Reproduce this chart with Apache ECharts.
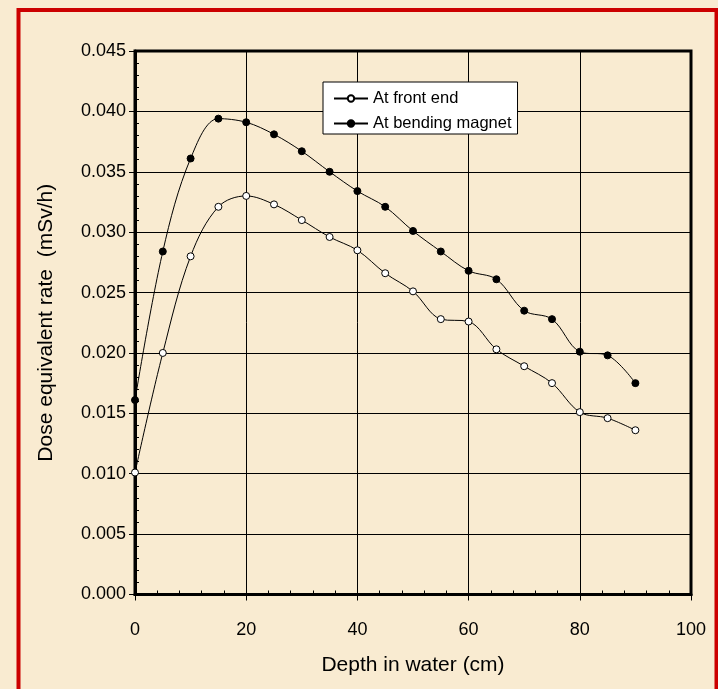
<!DOCTYPE html>
<html>
<head>
<meta charset="utf-8">
<script src="https://cdn.jsdelivr.net/npm/echarts@6/dist/echarts.min.js"></script>
<style>
html,body{margin:0;padding:0;background:#F9EBD1;}
#c{width:718px;height:689px;}
</style>
</head>
<body>
<div id="c"></div>
<script>
const depths = [0, 5, 10, 15, 20, 25, 30, 35, 40, 45, 50, 55, 60, 65, 70, 75, 80, 85, 90];
const frontEnd = [0.0101, 0.0200, 0.0280, 0.0321, 0.0330, 0.0323, 0.0310, 0.0296, 0.0285, 0.0266, 0.0251, 0.0228, 0.0226, 0.0203, 0.0189, 0.0175, 0.0151, 0.0146, 0.0136];
const bendingMagnet = [0.0161, 0.0284, 0.0361, 0.0394, 0.0391, 0.0381, 0.0367, 0.0350, 0.0334, 0.0321, 0.0301, 0.0284, 0.0268, 0.0261, 0.0235, 0.0228, 0.0201, 0.0198, 0.0175];
const xTicks = [0, 20, 40, 60, 80, 100];
const yTicks = [0, 0.005, 0.010, 0.015, 0.020, 0.025, 0.030, 0.035, 0.040, 0.045];
const seriesNames = ['At front end', 'At bending magnet'];

const chart = echarts.init(document.getElementById('c'), null, {renderer: 'canvas'});
const font = 'Liberation Sans, Arial, sans-serif';
const pair = (xs, ys) => xs.map((x, i) => [x, ys[i]]);

chart.setOption({
  backgroundColor: '#F9EBD1',
  animation: false,
  graphic: [{
    type: 'rect',
    shape: {x: 18.5, y: 10, width: 698, height: 720},
    style: {fill: 'none', stroke: '#CC0000', lineWidth: 4},
    z: 100
  }],
  grid: {left: 135, right: 27, top: 51, bottom: 94.5, show: true, borderColor: '#000', borderWidth: 3, backgroundColor: 'transparent'},
  legend: {
    orient: 'vertical', left: 323, top: 82,
    backgroundColor: '#fff', borderColor: '#000', borderWidth: 1,
    padding: [8, 6, 2, 10], itemGap: 8, itemWidth: 34, itemHeight: 8,
    textStyle: {fontFamily: font, fontSize: 16.5, color: '#000'},
    data: seriesNames
  },
  xAxis: [{
    type: 'value', min: xTicks[0], max: xTicks[xTicks.length - 1], interval: 20,
    name: 'Depth in water (cm)', nameLocation: 'middle', nameGap: 60,
    nameTextStyle: {fontFamily: font, fontSize: 21, color: '#000'},
    axisLine: {show: true, onZero: false, lineStyle: {color: '#000', width: 3}},
    axisTick: {show: true, inside: false, length: 6, lineStyle: {color: '#000', width: 1}},
    minorTick: {show: false},
    axisLabel: {fontFamily: font, fontSize: 18, color: '#000', margin: 27},
    splitLine: {show: true, lineStyle: {color: '#000', width: 1}}
  }, {
    type: 'value', min: xTicks[0], max: xTicks[xTicks.length - 1], interval: 20, position: 'bottom',
    axisLine: {show: false}, axisLabel: {show: false}, splitLine: {show: false},
    axisTick: {show: false, inside: true},
    minorTick: {show: true, splitNumber: 5, length: 4, lineStyle: {color: '#000', width: 1}}
  }],
  yAxis: [{
    type: 'value', min: yTicks[0], max: yTicks[yTicks.length - 1], interval: 0.005,
    name: 'Dose equivalent rate  (mSv/h)', nameLocation: 'middle', nameGap: 78,
    nameTextStyle: {fontFamily: font, fontSize: 21, color: '#000'},
    axisLine: {show: true, onZero: false, lineStyle: {color: '#000', width: 3}},
    axisTick: {show: true, inside: false, length: 6, lineStyle: {color: '#000', width: 1}},
    axisLabel: {fontFamily: font, fontSize: 18, color: '#000', margin: 9, formatter: v => v.toFixed(3)},
    splitLine: {show: true, lineStyle: {color: '#000', width: 1}}
  }, {
    type: 'value', min: yTicks[0], max: yTicks[yTicks.length - 1], interval: 0.005, position: 'left',
    axisLine: {show: false}, axisLabel: {show: false}, splitLine: {show: false},
    axisTick: {show: false, inside: true},
    minorTick: {show: true, splitNumber: 5, length: 4, lineStyle: {color: '#000', width: 1}}
  }],
  series: [{
    name: seriesNames[0], type: 'line', smooth: 0.35,
    data: pair(depths, frontEnd),
    symbol: 'circle', symbolSize: 7,
    lineStyle: {color: '#000', width: 1},
    itemStyle: {color: '#fff', borderColor: '#000', borderWidth: 1},
    z: 5
  }, {
    name: seriesNames[1], type: 'line', smooth: 0.35,
    data: pair(depths, bendingMagnet),
    symbol: 'circle', symbolSize: 7,
    lineStyle: {color: '#000', width: 1},
    itemStyle: {color: '#000', borderColor: '#000', borderWidth: 1},
    z: 5
  }]
});
</script>
</body>
</html>
